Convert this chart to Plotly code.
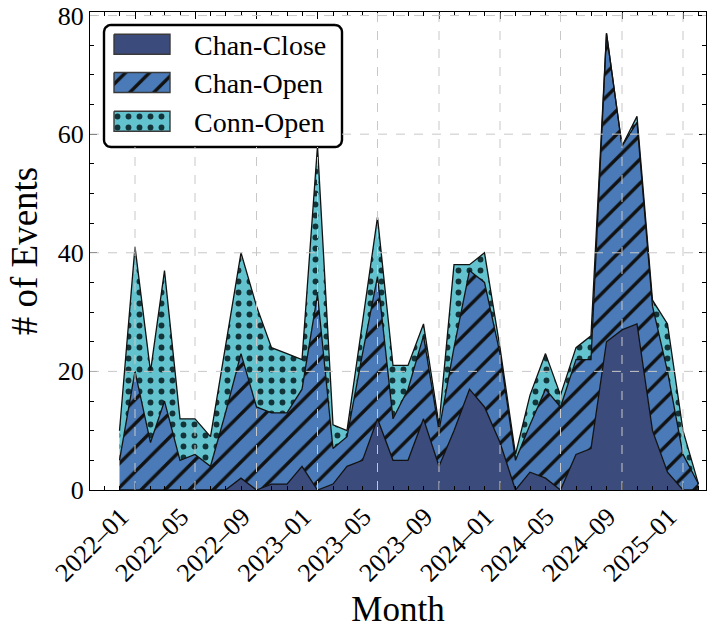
import numpy as np
import pandas as pd
import plotly.graph_objects as go

# ---------------- data ----------------
months = [d.strftime("%Y-%m-%d") for d in pd.date_range("2021-12-01", "2025-02-01", freq="MS")]
chan_close = [0, 0, 0, 0, 0, 0, 0, 0, 2, 0, 1, 1, 4, 0, 1, 4, 5, 12, 5, 5,
              12, 4, 10, 17, 14, 8, 0, 3, 2, 0, 6, 7, 25, 27, 28, 10, 3, 0, 0]
chan_open = [5, 20, 8, 15, 5, 6, 4, 13, 21, 14, 12, 12, 13, 33, 6, 5, 18, 24, 7, 12,
             14, 6, 14, 20, 21, 15, 5, 8, 15, 14, 16, 15, 52, 31, 34, 21, 17, 6, 1]
conn_open = [5, 21, 12, 22, 7, 6, 5, 11, 17, 17, 11, 10, 5, 25, 4, 1, 5, 10, 9, 4,
             2, 1, 14, 1, 5, 1, 1, 5, 6, 2, 2, 4, 0, 0, 1, 1, 8, 4, 0]
series_names = ["Chan-Close", "Chan-Open", "Conn-Open"]
x_tick_dates = ["2022-01-01", "2022-05-01", "2022-09-01", "2023-01-01", "2023-05-01",
                "2023-09-01", "2024-01-01", "2024-05-01", "2024-09-01", "2025-01-01"]
x_tick_labels = ["2022\u201301", "2022\u201305", "2022\u201309", "2023\u201301", "2023\u201305",
                 "2023\u201309", "2024\u201301", "2024\u201305", "2024\u201309", "2025\u201301"]
y_ticks = [0, 20, 40, 60, 80]

# ---------------- style ----------------
FONT = "Liberation Serif"
C_CLOSE = "#3b4c7c"
C_OPEN = "#4a7bb8"
C_CONN = "#62c3ce"
EDGE = "#111111"
DOT = "#123338"
GRID = "#c8c8c8"

W, H = 718, 629
ML, MR, MT, MB = 90, 12, 12, 139
PW, PH = W - ML - MR, H - MT - MB
X_RANGE = ["2021-10-03", "2025-02-16"]
Y_RANGE = [0, 80.6]

fig = go.Figure()

patterns = [
    None,
    dict(shape="/", fgcolor=EDGE, bgcolor=C_OPEN, size=17, solidity=0.2, fgopacity=1),
    dict(shape=".", fgcolor=DOT, bgcolor=C_CONN, size=11, solidity=0.22, fgopacity=1),
]
colors = [C_CLOSE, C_OPEN, C_CONN]
for name, vals, col, pat in zip(series_names, [chan_close, chan_open, conn_open], colors, patterns):
    kw = dict(fillpattern=pat) if pat else {}
    fig.add_trace(go.Scatter(
        x=months, y=vals, name=name, mode="lines", stackgroup="one",
        line=dict(color=EDGE, width=1.3), fillcolor=col, showlegend=False, **kw))

# ---------------- legend (custom, on overlay axes in paper units) ----------------
def px2fx(px):
    return (px - ML) / PW

def px2fy(py):
    return (MT + PH - py) / PH

box = dict(x0=104, x1=342, y0=25, y1=147, r=7)

def rounded_rect(x0, x1, y0, y1, r, n=8):
    xs, ys = [], []
    corners = [(x1 - r, y0 + r, -90, 0), (x1 - r, y1 - r, 0, 90),
               (x0 + r, y1 - r, 90, 180), (x0 + r, y0 + r, 180, 270)]
    for cx, cy, a0, a1 in corners:
        for a in np.linspace(np.radians(a0), np.radians(a1), n):
            xs.append(px2fx(cx + r * np.cos(a)))
            ys.append(px2fy(cy + r * np.sin(a)))
    xs.append(xs[0]); ys.append(ys[0])
    return xs, ys

bx, by = rounded_rect(box["x0"], box["x1"], box["y0"], box["y1"], box["r"])
fig.add_trace(go.Scatter(x=bx, y=by, xaxis="x2", yaxis="y2", mode="lines", fill="toself",
                         fillcolor="white", line=dict(color="black", width=2.4),
                         showlegend=False, hoverinfo="skip"))

row_centers = [44.3, 82.5, 121.3]
sw_x0, sw_x1, sw_h = 114, 170, 20
for name, col, pat, yc in zip(series_names, colors, patterns, row_centers):
    sx = [px2fx(sw_x0), px2fx(sw_x1), px2fx(sw_x1), px2fx(sw_x0), px2fx(sw_x0)]
    sy = [px2fy(yc - sw_h / 2), px2fy(yc - sw_h / 2), px2fy(yc + sw_h / 2),
          px2fy(yc + sw_h / 2), px2fy(yc - sw_h / 2)]
    kw = dict(fillpattern=pat) if pat else {}
    fig.add_trace(go.Scatter(x=sx, y=sy, xaxis="x2", yaxis="y2", mode="lines", fill="toself",
                             fillcolor=col, line=dict(color="#3a3a3a", width=1.4),
                             showlegend=False, hoverinfo="skip", **kw))
    fig.add_annotation(x=px2fx(192), y=px2fy(yc + 1), xref="x2 domain", yref="y2 domain",
                       text=name, showarrow=False, xanchor="left", yanchor="middle",
                       font=dict(family=FONT, size=28, color="black"))

# ---------------- gridlines drawn above the areas ----------------
t0 = pd.Timestamp(X_RANGE[0]); t1 = pd.Timestamp(X_RANGE[1])
shapes = []
gl = dict(color=GRID, width=1, dash="dash")
for d in x_tick_dates:
    xpx = ML + (pd.Timestamp(d) - t0) / (t1 - t0) * PW
    top = 1.0
    if box["x0"] <= xpx <= box["x1"]:
        top = px2fy(box["y1"])
    shapes.append(dict(type="line", xref="x", yref="paper", x0=d, x1=d, y0=0, y1=top,
                       line=gl, layer="above"))
for v in y_ticks[1:]:
    ypx = MT + PH - v / Y_RANGE[1] * PH
    if box["y0"] <= ypx <= box["y1"]:
        segs = [(0, px2fx(box["x0"])), (px2fx(box["x1"]), 1)]
    else:
        segs = [(0, 1)]
    for a, b in segs:
        shapes.append(dict(type="line", xref="paper", yref="y", x0=a, x1=b, y0=v, y1=v,
                           line=gl, layer="above"))

fig.update_layout(
    width=W, height=H,
    margin=dict(l=ML, r=MR, t=MT, b=MB, autoexpand=False),
    paper_bgcolor="white", plot_bgcolor="white",
    font=dict(family=FONT, size=26, color="black"),
    shapes=shapes,
    xaxis=dict(
        type="date", range=X_RANGE, tickmode="array", tickvals=x_tick_dates,
        ticktext=x_tick_labels, tickangle=-45, ticks="inside", ticklen=7, tickwidth=1,
        tickcolor="black", showline=True, linecolor="black", linewidth=1.3,
        mirror="allticks", showgrid=False, zeroline=False, automargin=False,
        ticklabelshift=-14,
        minor=dict(ticks="inside", ticklen=4, tickwidth=1, tickcolor="black",
                   dtick="M1", tick0="2022-01-01", showgrid=False),
        tickfont=dict(family=FONT, size=26),
        title=dict(text="Month", font=dict(family=FONT, size=35), standoff=10),
    ),
    yaxis=dict(
        range=Y_RANGE, tickmode="array", tickvals=y_ticks, ticks="inside", ticklen=7,
        tickwidth=1, tickcolor="black", showline=True, linecolor="black", linewidth=1.3,
        mirror="allticks", showgrid=False, zeroline=False, automargin=False,
        minor=dict(ticks="inside", ticklen=4, tickwidth=1, tickcolor="black",
                   dtick=5, tick0=0, showgrid=False),
        tickfont=dict(family=FONT, size=26),
        title=dict(text="# of Events", font=dict(family=FONT, size=37), standoff=8),
    ),
    xaxis2=dict(overlaying="x", range=[0, 1], visible=False, anchor="y2"),
    yaxis2=dict(overlaying="y", range=[0, 1], visible=False, anchor="x2"),
)

fig.write_html("out.html", config={"displayModeBar": False},
               post_script="document.body.style.margin='0';document.body.style.overflow='hidden';")
